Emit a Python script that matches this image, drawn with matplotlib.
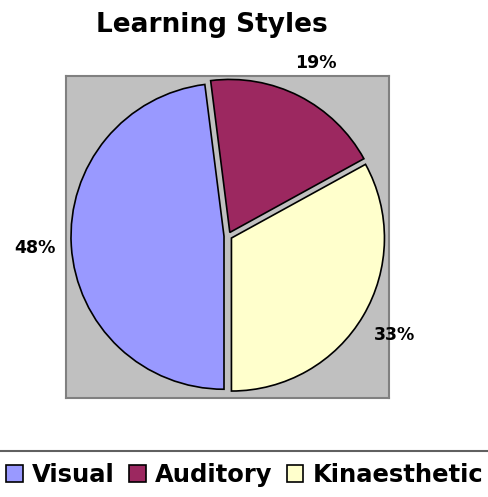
import matplotlib
matplotlib.use("Agg")
import matplotlib.pyplot as plt
from matplotlib.patches import Patch
from matplotlib.lines import Line2D

# Survey results: share of learners per learning style
categories = ["Visual", "Auditory", "Kinaesthetic"]
shares = [48, 19, 33]
colors = ["#9999FF", "#9C2860", "#FFFFCC"]

W, H = 488, 497
fig = plt.figure(figsize=(W / 100, H / 100), dpi=100)
fig.patch.set_facecolor("white")

# Plot area in pixel units (y measured upward)
left, right, top, bottom = 66, 389, 76, 398
ax = fig.add_axes([left / W, 1 - bottom / H, (right - left) / W, (bottom - top) / H])
ax.set_facecolor("#C0C0C0")

cx, cy, r = 228, H - 236, 153
gap = 4  # offset of every slice from the centre, in pixel units
wedges, texts, autotexts = ax.pie(
    shares,
    colors=colors,
    startangle=-90,
    counterclock=False,
    explode=[gap] * len(shares),
    center=(cx, cy),
    radius=r,
    frame=True,
    autopct=lambda p: f"{p:.0f}%",
    pctdistance=1.24,
    wedgeprops=dict(edgecolor="black", linewidth=1.2),
    textprops=dict(fontsize=12.5, fontweight="bold", color="black"),
)
for t in autotexts:
    t.set_clip_on(False)

ax.set_aspect("auto")
ax.set_xlim(left, right)
ax.set_ylim(H - bottom, H - top)
ax.set_xticks([])
ax.set_yticks([])
for s in ax.spines.values():
    s.set_color("#808080")
    s.set_linewidth(1.5)

fig.text(212 / W, 1 - 25 / H, "Learning Styles", ha="center", va="center",
         fontsize=19, fontweight="bold")

# Legend frame top edge runs across the full width
fig.add_artist(Line2D([0, 1], [1 - 451 / H, 1 - 451 / H], color="#606060",
                      linewidth=1.5, transform=fig.transFigure))

handles = [Patch(facecolor=c, edgecolor="black", linewidth=1.2) for c in colors]
fig.legend(handles, categories, loc="center left",
           bbox_to_anchor=(6 / W, 1 - 475 / H), ncol=3, frameon=False,
           prop=dict(size=17.5, weight="bold"),
           handlelength=0.68, handleheight=0.68, handletextpad=0.38,
           columnspacing=0.6, borderpad=0, borderaxespad=0)

fig.savefig("out.png", dpi=100)
